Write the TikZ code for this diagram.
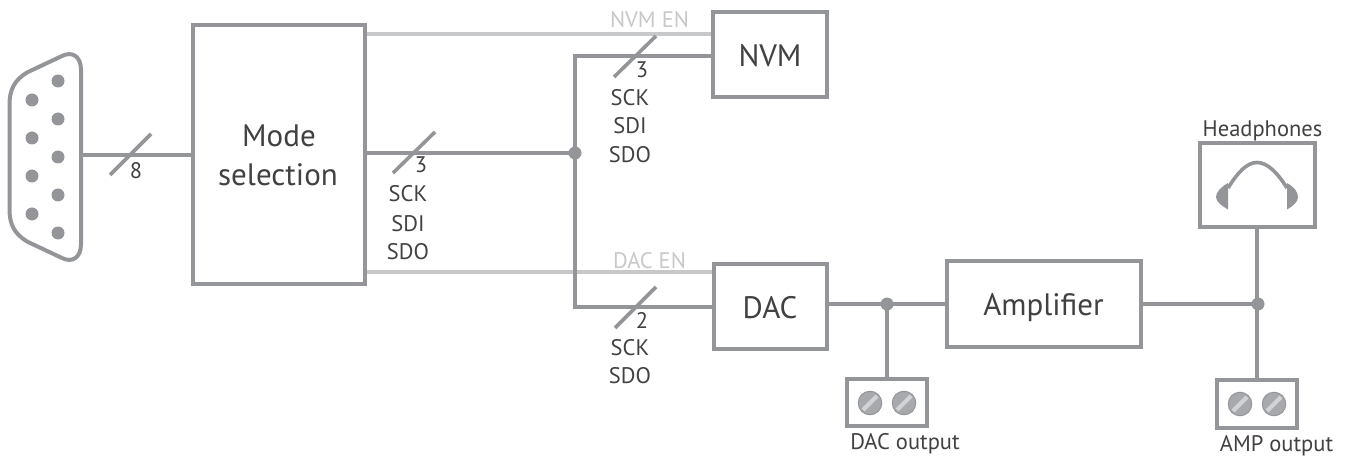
\documentclass[tikz,border=0pt]{standalone}
\usepackage{fontspec}
\setmainfont{PT Sans}
\definecolor{wire}{HTML}{939598}
\definecolor{faint}{HTML}{C7C8CA}
\definecolor{ink}{HTML}{414042}
\definecolor{slot}{HTML}{D1D3D4}
\definecolor{screwc}{HTML}{A7A9AC}
\tikzset{
  wireline/.style={draw=wire,line width=3.6pt},
  enline/.style={draw=faint,line width=3.6pt},
  slashline/.style={draw=wire,line width=3.6pt},
  blockbox/.style={draw=wire,line width=4pt,fill=white,inner sep=0pt},
  termbox/.style={draw=wire,line width=4pt,fill=white,inner sep=0pt},
  junction/.style={circle,fill=wire,inner sep=0pt,minimum size=13pt},
  pin/.style={circle,fill=wire,inner sep=0pt,minimum size=13pt},
  screw/.style={circle,fill=screwc,draw=wire,line width=1pt,inner sep=0pt,minimum size=23.5pt},
  biglab/.style={text=ink,font=\fontsize{31}{36}\selectfont,inner sep=0pt,anchor=base},
  lab/.style={text=ink,font=\fontsize{22.5}{26}\selectfont,inner sep=0pt,anchor=base},
  enlab/.style={text=faint,font=\fontsize{22.5}{26}\selectfont,inner sep=0pt,anchor=base},
}
\begin{document}
\begin{tikzpicture}[x=1pt,y=-1pt]
\useasboundingbox (0,0) rectangle (1349,457);
% blocks
\node[blockbox,minimum width=172pt,minimum height=259pt] (mode) at (279,154.5) {};
\node[blockbox,minimum width=114pt,minimum height=85pt] (nvm) at (770,54.5) {};
\node[blockbox,minimum width=113pt,minimum height=85pt] (dac) at (770.5,306.5) {};
\node[blockbox,minimum width=194pt,minimum height=86pt] (amp) at (1044,304) {};
\node[termbox,minimum width=115pt,minimum height=84pt] (hp) at (1257.5,185) {};
\node[termbox,minimum width=80pt,minimum height=47pt] (dacout) at (887,402.5) {};
\node[termbox,minimum width=80pt,minimum height=48pt] (ampout) at (1257,404) {};
\node[biglab] at (279,147) {Mode};
\node[biglab] at (278,186) {selection};
\node[biglab] at (770,67) {NVM};
\node[biglab] at (770,318) {DAC};
\node[biglab] at (1043.5,315) {Amplifier};
% junctions
\coordinate (jw) at (575,153);
\coordinate (jx) at (887,304);
\coordinate (jy) at (1257,304);
% connector body
\draw[wire,line width=4pt,line join=round]
  (81,70) .. controls (81,56) and (72,51) .. (62,56) -- (28,72)
  .. controls (14,80) and (9.5,90) .. (9.5,105) -- (9.5,209)
  .. controls (9.5,224) and (14,234) .. (28,242) -- (62,258)
  .. controls (72,263) and (81,258) .. (81,244) -- cycle;
\coordinate (plug) at (81,155);
\foreach \n/\y in {a/100,b/138,c/176,d/214} \node[pin] (p\n) at (32,\y) {};
\foreach \n/\y in {e/81,f/119,g/157,h/195,i/233} \node[pin] (p\n) at (58,\y) {};
% wires
\draw[wireline] (plug) -- (mode.west |- plug);
\draw[wireline] (mode.east |- jw) -- (jw);
\draw[enline] (mode.east |- 0,34) -- (nvm.west |- 0,34);
\draw[enline] (mode.east |- 0,272) -- (dac.west |- 0,272);
\draw[wireline] (nvm.west |- 0,56) -- (jw |- 0,56) -- (jw |- 0,307) -- (dac.west |- 0,307);
\draw[wireline] (dac.east |- jx) -- (jx) -- (amp.west |- jx);
\draw[wireline] (jx) -- (dacout.north -| jx);
\draw[wireline] (amp.east |- jy) -- (jy);
\draw[wireline] (hp.south -| jy) -- (ampout.north -| jy);
\node[junction] (j1) at (jw) {};
\node[junction] (j2) at (jx) {};
\node[junction] (j3) at (1258,304) {};
% slashes
\coordinate (s1a) at (110,175); \coordinate (s1b) at (151,134);
\coordinate (s2a) at (393,173); \coordinate (s2b) at (435,132);
\coordinate (s3a) at (614,77);  \coordinate (s3b) at (656,36);
\coordinate (s4a) at (615,328); \coordinate (s4b) at (656,287);
\draw[slashline] (s1a) -- (s1b);
\draw[slashline] (s2a) -- (s2b);
\draw[slashline] (s3a) -- (s3b);
\draw[slashline] (s4a) -- (s4b);
% wire labels
\node[lab] (l8) at (136,179) {8};
\node[lab] (l3a) at (421,173) {3};
\node[lab] at (408,202) {SCK};
\node[lab] at (408,231) {SDI};
\node[lab] at (408,259) {SDO};
\node[lab] (l3b) at (642,78) {3};
\node[lab] at (630,106) {SCK};
\node[lab] at (630,134) {SDI};
\node[lab] at (630,163) {SDO};
\node[lab] (l2) at (642,328) {2};
\node[lab] at (630,355) {SCK};
\node[lab] at (630,383) {SDO};
\node[enlab] at (649.5,28) {NVM EN};
\node[enlab] at (649.5,268) {DAC EN};
\node[lab] at (1262.5,137) {Headphones};
\node[lab] at (905,449) {DAC output};
\node[lab] at (1276.5,451) {AMP output};
% headphones icon
\draw[wire,line width=3.6pt] (1228,188) .. controls (1238,172) and (1247,162.5) .. (1257,162.5) .. controls (1267,162.5) and (1277,172) .. (1287,188);
\fill[wire] (1228,183) .. controls (1221,187) and (1216,192) .. (1216,197) .. controls (1216,202) and (1222,206) .. (1228,209.5) -- cycle;
\fill[wire] (1287,183) .. controls (1294,187) and (1298,192) .. (1298,197) .. controls (1298,202) and (1293,206) .. (1287,209.5) -- cycle;
% screws
\foreach \n/\x/\y in {sa/870/403,sb/904/403,sc/1240/404,sd/1274/404}{
  \node[screw] (\n) at (\x,\y) {};
  \draw[slot,line width=4pt] (\x-7,\y+7) -- (\x+7,\y-7);
}
\end{tikzpicture}
\end{document}
